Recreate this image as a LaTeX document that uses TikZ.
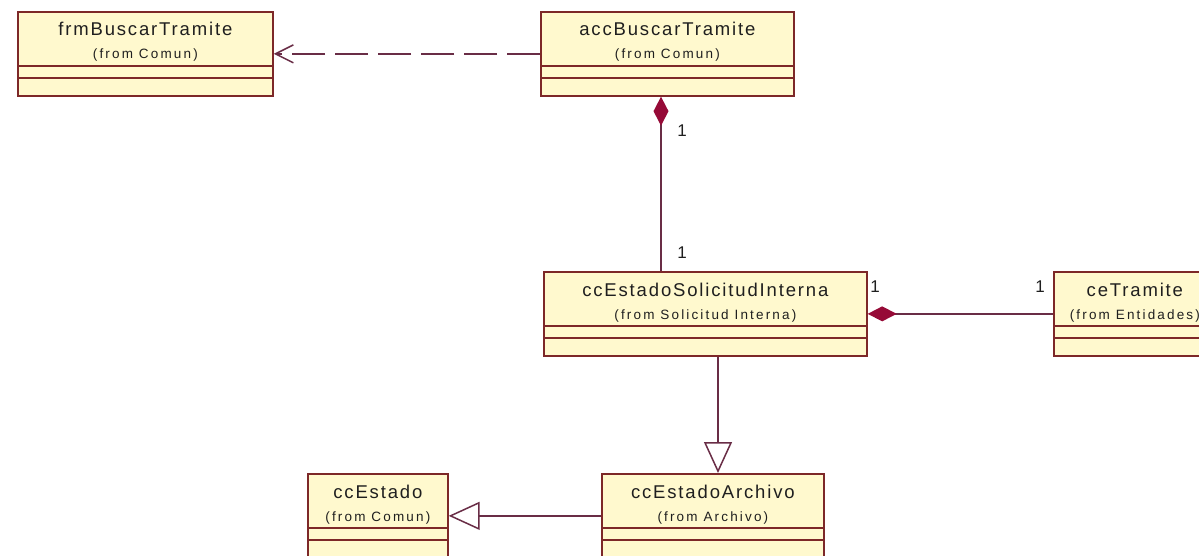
\documentclass[tikz,border=0pt]{standalone}
\usepackage{fontspec}
\setmainfont{Liberation Sans}
\newfontfamily\titlefont[LetterSpace=10]{Liberation Sans}
\newfontfamily\pkgfont[LetterSpace=16]{Liberation Sans}
\usetikzlibrary{arrows.meta,calc}

\definecolor{classfill}{RGB}{255,249,206}
\definecolor{classedge}{RGB}{125,40,40}
\definecolor{linkcol}{RGB}{105,45,70}
\definecolor{diamondcol}{RGB}{150,10,55}

\tikzset{
  classbox/.style={draw=classedge, fill=classfill, line width=1.7pt,
    rectangle, inner sep=0pt, anchor=north west},
  compline/.style={draw=classedge, line width=1.6pt},
  classname/.style={font=\titlefont\fontsize{18.5}{21}\selectfont,
    text=black!88, anchor=base, inner sep=0pt},
  classpkg/.style={font=\pkgfont\fontsize{13.5}{15}\selectfont,
    text=black!88, anchor=base, inner sep=0pt},
  link/.style={draw=linkcol, line width=1.7pt},
  dependency/.style={link, dash pattern=on 33pt off 10pt,
    -{Straight Barb[length=18pt,width=18pt,line width=1.5pt]}},
  composition/.style={link,
    {Diamond[length=29pt,width=15pt,fill=diamondcol,color=diamondcol]}-},
  generalization/.style={link,
    -{Triangle[length=31pt,width=28pt,fill=white,line width=1.5pt]}},
  mult/.style={font=\fontsize{17}{19}\selectfont, text=black!88, inner sep=0pt},
}

% \umlclass{id}{left}{top}{width}{height}{name}{package}
\newcommand\umlclass[7]{%
  \node[classbox, minimum width=#4pt, minimum height=#5pt] (#1) at (#2,#3) {};
  \draw[compline] ($(#1.north west)+(0,55)$) -- ($(#1.north east)+(0,55)$);
  \draw[compline] ($(#1.north west)+(0,67)$) -- ($(#1.north east)+(0,67)$);
  \node[classname] (#1-name) at ($(#1.north)+(0,25)$) {#6};
  \node[classpkg] (#1-pkg) at ($(#1.north)+(0,48)$) {#7};
}

\begin{document}
\begin{tikzpicture}[x=1pt, y=-1pt]
  \useasboundingbox[fill=white] (0,0) rectangle (1199,556);
  \clip (0,0) rectangle (1199,556);

  % classes
  \umlclass{frm}{17}{11}{255}{84}{frmBuscarTramite}{(from Comun)}
  \umlclass{acc}{540}{11}{253}{84}{accBuscarTramite}{(from Comun)}
  \umlclass{esi}{543}{271}{323}{84}{ccEstadoSolicitudInterna}{(from Solicitud Interna)}
  \umlclass{tram}{1053}{271}{162}{84}{ceTramite}{(from Entidades)}
  \umlclass{arch}{601}{473}{222}{84}{ccEstadoArchivo}{(from Archivo)}
  \umlclass{est}{307}{473}{140}{84}{ccEstado}{(from Comun)}

  % routing columns for the vertical links
  \coordinate (compcol) at (661,0);
  \coordinate (gencol) at (718,0);

  % relations
  \draw[dependency] (acc.west) -- (frm.east);
  \draw[composition] (acc.south -| compcol) -- (esi.north -| compcol);
  \draw[composition] (esi.east) -- (tram.west);
  \draw[generalization] (esi.south -| gencol) -- (arch.north -| gencol);
  \draw[generalization] (arch.west) -- (est.east);

  % multiplicities
  \node[mult] (m1) at (682,131) {1};
  \node[mult] (m2) at (682,253) {1};
  \node[mult] (m3) at (875,287) {1};
  \node[mult] (m4) at (1040,287) {1};
\end{tikzpicture}
\end{document}
